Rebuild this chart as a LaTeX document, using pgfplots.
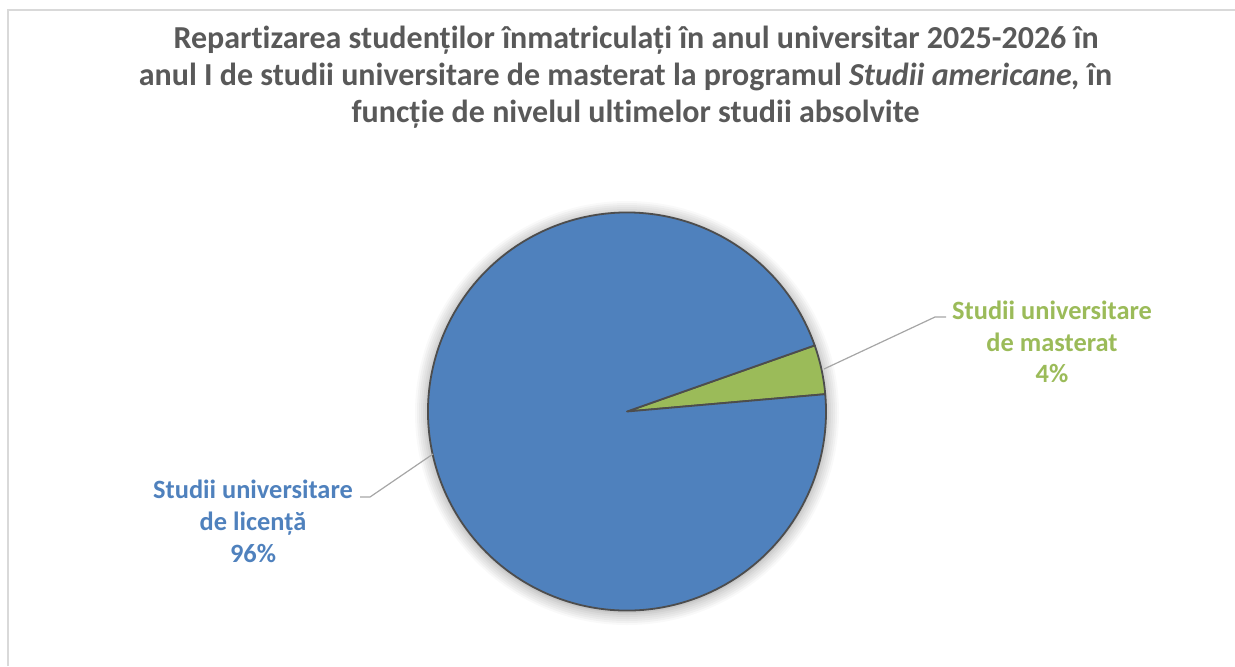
\documentclass[border=0pt]{standalone}
\usepackage{pgfplots}
\pgfplotsset{compat=1.18}
\usepackage{fontspec}
\setmainfont{Carlito}[Ligatures=NoCommon]
\definecolor{titlegray}{HTML}{595959}
\definecolor{pieblue}{HTML}{4F81BD}
\definecolor{piegreen}{HTML}{9BBB59}
\definecolor{edgegray}{HTML}{4D4D4D}
\definecolor{leader}{HTML}{A6A6A6}
\definecolor{frame}{HTML}{D9D9D9}
% data (percent)
\def\valLic{96}
\def\valMas{4}
\def\startang{5}
\pgfmathsetmacro{\endMas}{\startang+\valMas*3.6}
\pgfmathsetmacro{\endLic}{\endMas+\valLic*3.6}
\begin{document}
\begin{tikzpicture}
\begin{axis}[
  scale only axis, width=617.5pt, height=333pt,
  xmin=0, xmax=1235, ymin=0, ymax=666, y dir=reverse,
  hide axis, clip=false]
\coordinate (NW) at (axis cs:0,0);
\coordinate (SE) at (axis cs:1235,666);
% frame
\draw[frame, line width=0.8pt] (axis cs:8,666) -- (axis cs:8,10) -- (axis cs:1235,10);
% shadow
\fill[black, opacity=0.025] (axis cs:627,413) circle[radius=106pt];
\fill[black, opacity=0.03] (axis cs:627,413) circle[radius=105pt];
\fill[black, opacity=0.03] (axis cs:627,413) circle[radius=104pt];
\fill[black, opacity=0.03] (axis cs:627,413) circle[radius=103pt];
\fill[black, opacity=0.035] (axis cs:627,413) circle[radius=102pt];
\fill[black, opacity=0.04] (axis cs:627,413) circle[radius=101pt];
\fill[black, opacity=0.05] (axis cs:627,413) circle[radius=100pt];
\fill[white] (axis cs:627,411.5) circle[radius=99.5pt];
% slices
\filldraw[fill=piegreen, draw=edgegray, line width=0.9pt, line join=round]
  (axis cs:627,411.5) -- ++(\startang:99.5pt) arc[start angle=\startang, end angle=\endMas, radius=99.5pt] -- cycle;
\filldraw[fill=pieblue, draw=edgegray, line width=0.9pt, line join=round]
  (axis cs:627,411.5) -- ++(\endMas:99.5pt) arc[start angle=\endMas, end angle=\endLic, radius=99.5pt] -- cycle;
% leader lines
\draw[leader, line width=0.6pt] (axis cs:824,369) -- (axis cs:935,317) -- (axis cs:946,317);
\draw[leader, line width=0.6pt] (axis cs:433,454) -- (axis cs:370,497) -- (axis cs:360,497);
% title
\begin{scope}[every node/.style={anchor=base, inner sep=0pt, text=titlegray, font=\fontsize{16.0}{18.5}\selectfont\bfseries}]
\node at (axis cs:636,48) {Repartizarea studenților înmatriculați în anul universitar 2025-2026 în};
\node at (axis cs:625.5,85) {anul I de studii universitare de masterat la programul \textit{Studii americane,} în};
\node at (axis cs:635.5,122) {funcție de nivelul ultimelor studii absolvite};
\end{scope}
% labels
\begin{scope}[every node/.style={anchor=base, inner sep=0pt, font=\fontsize{13.2}{16}\selectfont\bfseries}]
\node[text=piegreen] at (axis cs:1052,319) {Studii universitare};
\node[text=piegreen] at (axis cs:1052,351) {de masterat};
\node[text=piegreen] at (axis cs:1052,382.5) {\valMas\%};
\node[text=pieblue] at (axis cs:253,498) {Studii universitare};
\node[text=pieblue] at (axis cs:253,530) {de licență};
\node[text=pieblue] at (axis cs:253,562) {\valLic\%};
\end{scope}
\end{axis}
\pgfresetboundingbox
\path[use as bounding box] (NW) rectangle (SE);
\end{tikzpicture}
\end{document}
